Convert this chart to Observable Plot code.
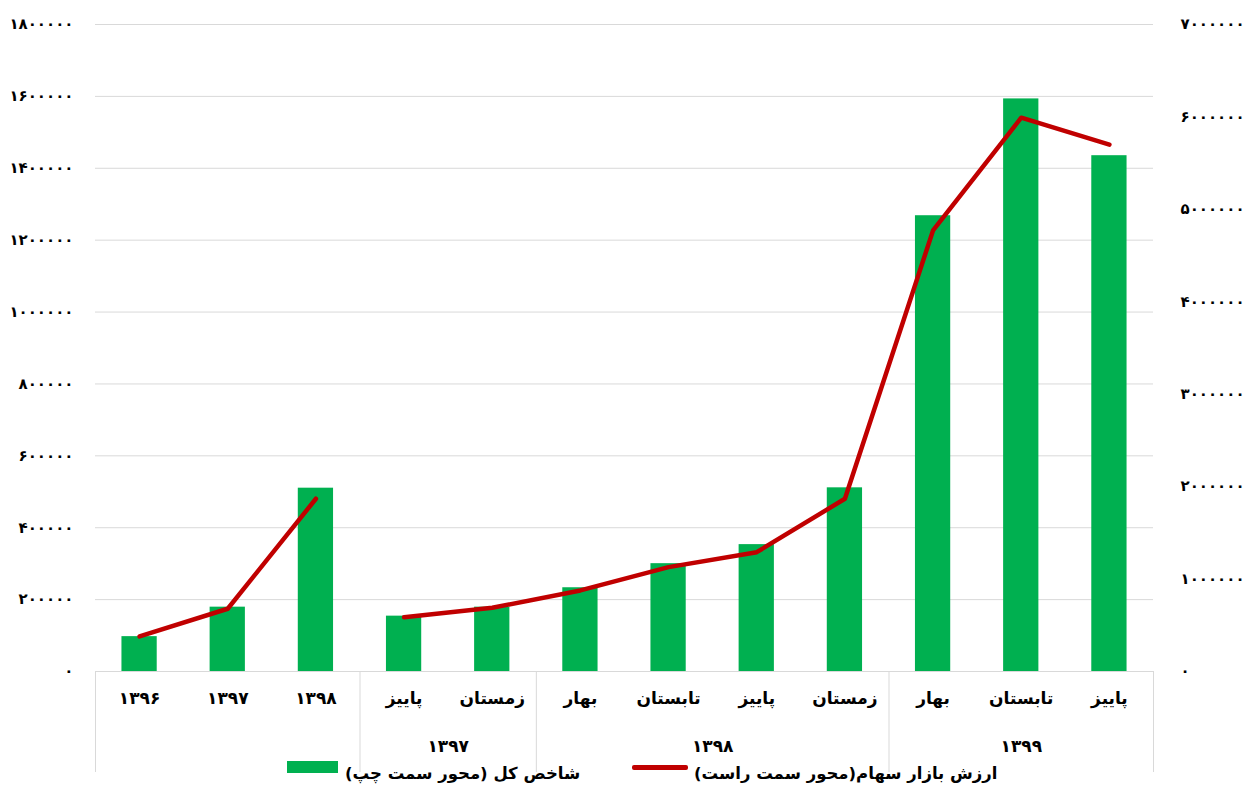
<!DOCTYPE html>
<html><head><meta charset="utf-8">
<script src="https://cdn.jsdelivr.net/npm/d3@7"></script>
<script src="https://cdn.jsdelivr.net/npm/@observablehq/plot@0.6"></script>
<style>
body{margin:0;background:#fff;font-family:"DejaVu Sans",sans-serif;}
#wrap{position:relative;width:1256px;height:789px;overflow:hidden;}
#legend{position:absolute;left:0;top:0;width:1256px;height:789px;pointer-events:none;font-size:16.5px;font-weight:bold;color:#000;}
.sw{position:absolute;}
.lt{position:absolute;white-space:nowrap;line-height:20px;}
</style></head><body><div id="wrap"></div>
<script>
// ---- data ----
const categories = ["1396","1397","1398","پاییز","زمستان","بهار","تابستان","پاییز","زمستان","بهار","تابستان","پاییز"];
const groups = ["","","","1397","1397","1398","1398","1398","1398","1399","1399","1399"];
const indexValues = [97000,179000,510000,154000,179000,233000,300000,353000,511000,1268000,1593000,1435000];
const marketValues = [379000,679000,1869000,588000,689000,877000,1129000,1291000,1869000,4773000,5992000,5700000];
const leftTicks = [0,200000,400000,600000,800000,1000000,1200000,1400000,1600000,1800000];
const rightTicks = [0,1000000,2000000,3000000,4000000,5000000,6000000,7000000];
const legendLabels = ["شاخص کل (محور سمت چپ)","ارزش بازار سهام(محور سمت راست)"];
const barColor = "#00B050", lineColor = "#C00000", gridColor = "#d9d9d9";

const faDigits = "۰۱۲۳۴۵۶۷۸۹";
const fa = s => String(s).replace(/\d/g, d => faDigits[+d]);

const leftMax = leftTicks[leftTicks.length-1];
const rightMax = rightTicks[rightTicks.length-1];
const ratio = leftMax / rightMax;

const data = categories.map((c,i)=>({i, cat:c, group:groups[i], seg: groups[i]===""?"annual":"quarterly", idx:indexValues[i], mv:marketValues[i]}));

// dividers between group blocks
const dividers = [-0.5];
for (let i=1;i<groups.length;i++) if (groups[i]!==groups[i-1]) dividers.push(i-0.5);
dividers.push(groups.length-0.5);

const groupLabels = Array.from(d3.group(data.filter(d=>d.group!==""), d=>d.group), ([g, arr]) => ({label: fa(g), x: d3.mean(arr, d=>d.i)}));

const chart = Plot.plot({
  width:1256, height:789,
  marginLeft:95, marginRight:103, marginTop:24, marginBottom:118,
  style:{fontFamily:"DejaVu Sans", fontSize:"14px", fontWeight:"bold", color:"#000", background:"#fff", overflow:"visible"},
  x:{domain:[-0.5, categories.length-0.5], axis:null},
  y:{domain:[0,leftMax], axis:null},
  marks:[
    Plot.gridY(leftTicks, {stroke:gridColor, strokeOpacity:1}),
    Plot.axisY(leftTicks, {anchor:"left", label:null, tickSize:0, tickPadding:22, tickFormat:d=>fa(d), fontSize:15}),
    Plot.axisY(rightTicks.map(v=>v*ratio), {anchor:"right", label:null, tickSize:0, tickPadding:27, tickFormat:d=>fa(Math.round(d/ratio)), fontSize:15}),
    Plot.rect(data, {x1:d=>d.i-0.2, x2:d=>d.i+0.2, y1:0, y2:"idx", fill:barColor}),
    Plot.ruleY([0], {stroke:gridColor, strokeOpacity:1}),
    Plot.ruleX(dividers, {y1:0, y2:0, insetBottom:-101, stroke:gridColor, strokeOpacity:1}),
    Plot.line(data, {x:"i", y:d=>d.mv*ratio, z:"seg", stroke:lineColor, strokeWidth:4.5, strokeLinecap:"round"}),
    Plot.axisX(data.map(d=>d.i), {label:null, tickSize:0, tickPadding:20, tickFormat:i=>fa(categories[i]), fontSize:17}),
    Plot.text(groupLabels, {x:"x", text:"label", frameAnchor:"bottom", dy:80, fontSize:17})
  ]
});
const wrap = document.getElementById("wrap");
wrap.appendChild(chart);
const legend = document.createElement("div");
legend.id = "legend";
legend.innerHTML = `
 <div class="sw" style="left:287px;top:761px;width:51px;height:12px;background:${barColor}"></div>
 <div class="lt" dir="rtl" style="left:345px;top:764px;">${legendLabels[0]}</div>
 <div class="sw" style="left:632px;top:765px;width:56px;height:4.5px;border-radius:2px;background:${lineColor}"></div>
 <div class="lt" dir="rtl" style="left:694px;top:764px;">${legendLabels[1]}</div>`;
wrap.appendChild(legend);
</script></body></html>
